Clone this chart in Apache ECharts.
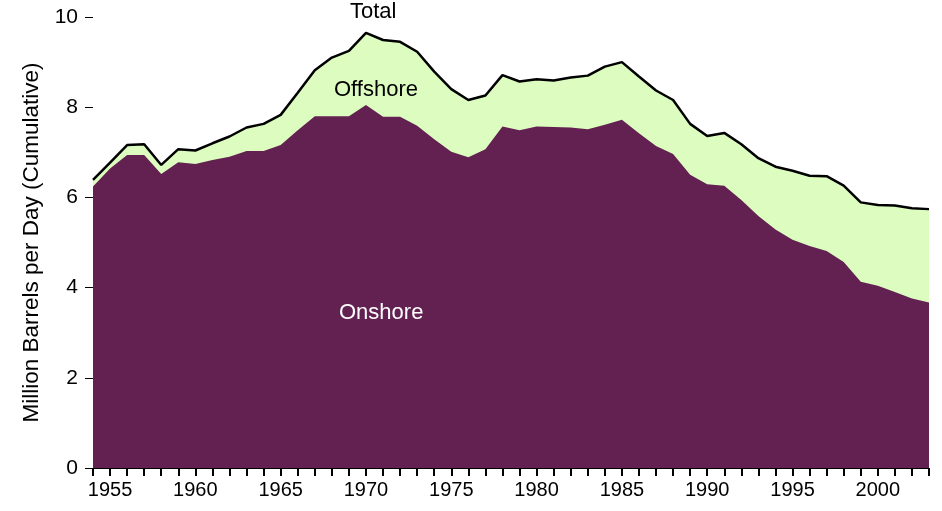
<!DOCTYPE html>
<html>
<head>
<meta charset="utf-8">
<script src="https://cdn.jsdelivr.net/npm/echarts@6/dist/echarts.min.js"></script>
<style>
  html, body { margin: 0; padding: 0; background: #fff; }
  #main { width: 942px; height: 511px; }
</style>
</head>
<body>
<div id="main"></div>
<script>
// years 1954..2003, million barrels per day
var years = [];
for (var y = 1954; y <= 2003; y++) years.push(y);

var total = [6.39, 6.77, 7.16, 7.18, 6.72, 7.07, 7.04, 7.20, 7.35, 7.55,
             7.63, 7.83, 8.32, 8.82, 9.10, 9.25, 9.65, 9.49, 9.45, 9.23,
             8.79, 8.40, 8.16, 8.26, 8.71, 8.57, 8.62, 8.59, 8.66, 8.70,
             8.90, 9.00, 8.68, 8.37, 8.16, 7.63, 7.36, 7.43, 7.18, 6.87,
             6.68, 6.59, 6.48, 6.47, 6.26, 5.89, 5.83, 5.82, 5.76, 5.74];

var onshore = [6.24, 6.64, 6.94, 6.94, 6.52, 6.78, 6.74, 6.83, 6.90, 7.03,
               7.03, 7.16, 7.49, 7.80, 7.80, 7.80, 8.05, 7.79, 7.79, 7.59,
               7.29, 7.01, 6.89, 7.07, 7.57, 7.49, 7.57, 7.56, 7.55, 7.51,
               7.61, 7.72, 7.42, 7.14, 6.96, 6.50, 6.29, 6.26, 5.94, 5.59,
               5.29, 5.06, 4.92, 4.81, 4.57, 4.13, 4.04, 3.90, 3.76, 3.67];

var yTicks = [0, 2, 4, 6, 8, 10];

function pairs(vals) {
    return years.map(function (yr, i) { return [yr, vals[i]]; });
}

var myChart = echarts.init(document.getElementById('main'));
var font = 'Liberation Sans, Arial, sans-serif';

option = {
    animation: false,
    grid: { left: 93, right: 13, top: 17, bottom: 43, containLabel: false },
    xAxis: {
        type: 'value',
        min: 1954,
        max: 2003,
        interval: 1,
        splitLine: { show: false },
        axisLine: { show: true, lineStyle: { color: '#000', width: 1 } },
        axisTick: { show: true, inside: false, length: 8, lineStyle: { color: '#000', width: 2 } },
        axisLabel: {
            margin: 12,
            fontSize: 20,
            fontFamily: font,
            color: '#000',
            formatter: function (v) { return v % 5 === 0 ? String(v) : ''; }
        }
    },
    yAxis: {
        type: 'value',
        min: yTicks[0],
        max: yTicks[yTicks.length - 1],
        interval: 2,
        name: 'Million Barrels per Day (Cumulative)',
        nameLocation: 'middle',
        nameGap: 49,
        nameTextStyle: { fontSize: 22.5, fontFamily: font, color: '#000' },
        splitLine: { show: false },
        axisLine: { show: false },
        axisTick: { show: true, length: 8, lineStyle: { color: '#000', width: 1 } },
        axisLabel: { margin: 15, fontSize: 21, fontFamily: font, color: '#000' }
    },
    series: [
        {
            name: 'Total',
            type: 'line',
            data: pairs(total),
            symbol: 'none',
            lineStyle: { color: '#000', width: 2.5 },
            areaStyle: { color: '#ddfcc0', opacity: 1 },
            z: 2
        },
        {
            name: 'Onshore',
            type: 'line',
            data: pairs(onshore),
            symbol: 'none',
            lineStyle: { width: 0, color: '#622151' },
            areaStyle: { color: '#622151', opacity: 1 },
            z: 3
        }
    ],
    graphic: [
        { type: 'text', left: 350, top: 1, z: 100, style: { text: 'Total', fontSize: 22, fontFamily: font, fill: '#000' } },
        { type: 'text', left: 334, top: 79, z: 100, style: { text: 'Offshore', fontSize: 22, fontFamily: font, fill: '#000' } },
        { type: 'text', left: 339, top: 302, z: 100, style: { text: 'Onshore', fontSize: 22, fontFamily: font, fill: '#fff' } }
    ]
};
myChart.setOption(option);
</script>
</body>
</html>
